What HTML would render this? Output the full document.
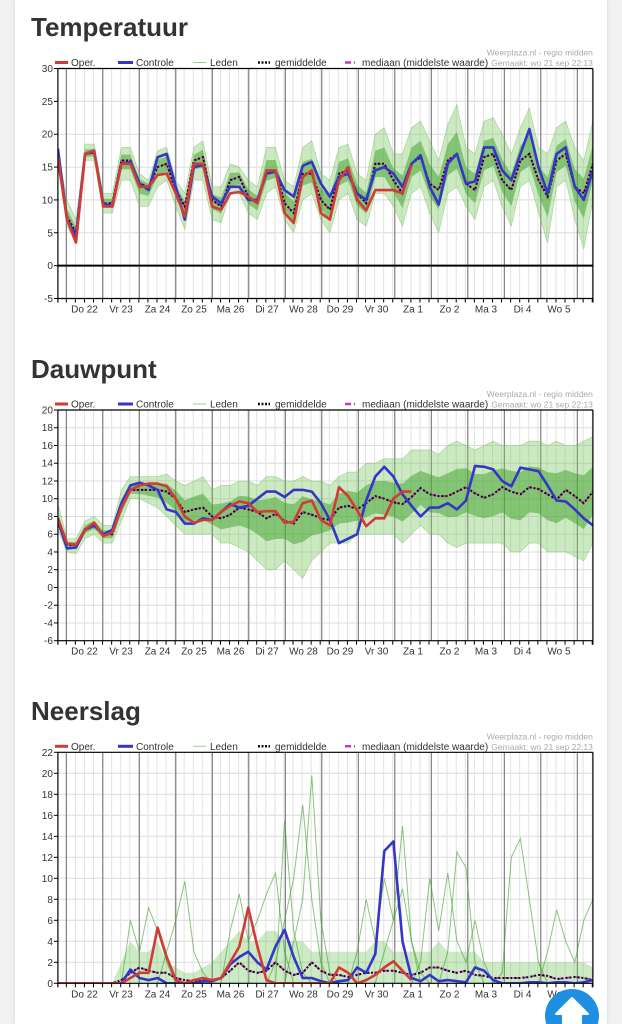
<!DOCTYPE html>
<html><head><meta charset="utf-8"><style>
html,body{margin:0;padding:0;background:#f1f1f1;width:622px;height:1024px;overflow:hidden}
#card{position:absolute;left:15px;top:0;width:592px;height:1024px;background:#fff;box-shadow:0 0 4px rgba(0,0,0,.12)}
svg{position:absolute;left:0;top:0}
text{font-family:"Liberation Sans",sans-serif}
</style></head><body>
<div id="card"></div>
<svg id="s" width="622" height="1024"></svg>
<script>
// ---------- data ----------
const dayLabels = ["Do 22","Vr 23","Za 24","Zo 25","Ma 26","Di 27","Wo 28","Do 29","Vr 30","Za 1","Zo 2","Ma 3","Di 4","Wo 5"];
const tempTicks = [30,25,20,15,10,5,0,-5];
const dewTicks = [20,18,16,14,12,10,8,6,4,2,0,-2,-4,-6];
const precTicks = [22,20,18,16,14,12,10,8,6,4,2,0];

const tempBlue = [17.8,7,4.5,17,17.3,9.5,9,15.5,15.8,12.5,11.5,16.5,17,12,7,15,15.3,10.5,9.5,12,12,10,10,14,14.3,11.5,10.5,15.2,15.8,12.5,10.5,13.5,14,11,10,14.5,15,14,12,15.5,16.8,12,9.3,15.5,17,12.5,12.8,18,18,14.5,13,17,20.8,15,11,17,18,12,10,14.5];
const tempOper = [16.5,7,3.5,17,17.5,9,9,15.5,15.5,12,12,13.8,14,11,7.5,15.5,15.5,9,8.5,11,11.2,10.5,9.5,14.5,14.5,8,6.5,13.5,14.5,8,7,13,15,10,8.4,11.5,11.5,11.5,11,15.3];
const tempMean = [16.5,7.5,5,17,17.2,9.5,9.5,16,16,12.5,12,15,15.5,11.5,9,16,16.5,10,9,13,13.5,10.5,9.5,14.5,14.5,9.5,8,14,14,10,8.5,14,14.5,11,9.5,15.5,15.5,13,11,15.5,16.5,12.5,11.5,16,17,12.5,11.5,16.5,17,13,11.5,16,17,13,10.5,16,17,12,11,15.5];
const tempHi = [17.5,10,7,18.5,18.5,11,11,18,18,14,13,17.5,18,13,11,18,19,12,12,15.5,15,13,12,18,18,13,12,18,19,14,13,18,18.5,14,13,20,21,17,17,21,22,19,16,21.5,24.5,18,17,22,22.5,20,17,21,24,18,17,21,22,18,16,22];
const tempLo = [15,6,3.5,16,16,8,8,13,13,9,9,12,13,9,5.5,13,13,7,6.5,11,11,8,7,11,12,7,5,10,11,7,5,10,11,7,6,11,11,9,6,11,12,8,5,11,12,9,7,12,13,9,6,12,13,8,3.5,12,13,7,2.5,10];

const dewBlue = [7.5,4.4,4.5,6.5,7,6,6.5,9.5,11.5,11.8,11.5,11,8.8,8.5,7.2,7.2,7.8,7.6,8.5,9.4,9,9.2,10,10.8,10.8,10.2,11,11,10.8,9.5,7.6,5,5.5,6,9.8,12.5,13.6,12.5,10.5,9.2,8,9,9,9.5,8.8,9.8,13.7,13.6,13.3,12,11.4,13.5,13.3,13.1,11.5,9.8,9.7,8.8,7.8,7];
const dewOper = [7.8,5,4.8,6.5,7.3,5.8,6.2,9,11,11.5,11.7,11.7,11.4,10,8,7.3,7.6,7.6,8.5,9.2,9.7,9.5,8.5,8.6,8.6,7.3,7.4,9.5,9.8,7.6,7,11.3,10.3,8.7,6.9,7.8,7.8,10,10.8,10.8];
const dewMean = [7.5,4.8,4.8,6.6,7.1,6,6,9,11,11,11,11,10.8,10,8.5,8.8,9,8,7.8,8.2,9,8.8,8.5,7.8,8.3,7.5,7.2,8.5,8.2,7.8,7.6,9,9.2,8.8,9.5,10.3,10,9.6,9.4,10.2,11.2,10.5,10.3,10.3,10.8,11.3,10.6,10.1,10.5,11.3,10.8,10.5,11.3,11.1,10.5,9.9,11,10.3,9.5,10.8];
const dewHi = [9.5,5.5,5.5,7.5,8,7,7,11,12.5,12.5,12.5,12.5,12.8,12,11.5,12,12.5,11,11.5,11.5,12,12,11.5,12.5,12.5,12,12,12.5,12,12,11.5,12.5,13,13,14,14,14.5,14.5,14.5,15.5,15.5,15.5,15,16,16.5,16,15.5,16,16.5,16,16,16,16.5,16.5,16,16.5,16,16,16.5,17];
const dewLo = [6.5,4,3.8,5.5,6,5,5,7.5,10,10,9.5,9,8,7,6,6,6,6,5,5,4.5,4,3,2,2,3,2,1,3,4,5,5,5,6,6,6,6,6,5,6,7,6,6,5,4.5,5,5,5,5,5,4,4,5,5,4,4,4,3.5,3,5];

const precOper = [0,0,0,0,0,0,0,0,0.5,1,1,5.3,2.5,0.3,0,0.3,0.5,0.3,0.5,2,3.5,7.2,3.5,0.3,0,0,0,0,0,0,0,1.5,1,0,0.3,0.8,1.5,2.1,1.2,0.3];
const precBlue = [0,0,0,0,0,0,0,0,1.3,0.5,0.3,0.5,0,0,0,0,0.2,0.2,0.5,1.8,2.5,3,2,1.3,3.5,5.1,2.5,0.5,0.5,0.2,0,0.2,0.3,1.5,1,2.8,12.6,13.5,4,0.5,0.2,0.8,0.2,0.3,0.2,0.1,1.5,1.2,0.3,0,0,0,0.1,0.1,0,0.1,0.1,0,0.1,0.3];
const precMean = [0,0,0,0,0,0,0,0.3,1,1.5,1.2,1,1,0.5,0.3,0.2,0.3,0.2,0.5,1.2,2,1.2,1,1.2,2,1.2,0.8,1,2,1.2,0.8,0.8,0.6,0.8,1,1,1.2,1.2,1,0.8,1,1.5,1.5,1.2,1,1.2,0.8,0.7,0.5,0.5,0.5,0.5,0.6,0.8,0.7,0.4,0.5,0.6,0.5,0.3];
const precBand = [0,0,0,0,0,0,0,2,4,3,3,4,2,1.5,1,1,1.5,2,3,4,5,4,4,5,5,4,4,4,3,3,3,3,3,3,3,4,4,3,3,3,3,3,4,3,3,3,3,2,2,2,2,2,2,2,2,2,2,2,2,1.5];
const precM1 = [[23,0],[24,2],[25,6],[26,10],[27,17],[28,8],[29,2],[30,0]];
const precM2 = [[25,0],[26,4],[27,8],[28,19.8],[29,6],[30,1],[31,0]];
const precM3 = [[35,0],[36,3],[37,6],[38,15],[39,4],[40,1],[41,0]];
const precM4 = [[48,0],[49,1],[50,12],[51,13.8],[52,8],[53,2],[54,0]];
const precM5 = [[11,0],[12,3],[13,6],[14,9.7],[15,3],[16,1],[17,0]];
const precM6 = [[7,0],[8,6],[9,3],[10,7.2],[11,5],[12,2],[13,0]];
const precM7 = [[42,0],[43,3],[44,12.5],[45,11],[46,2],[47,0]];
const precM8 = [[24,0],[25,15.5],[26,5],[27,1],[28,0]];
const precM9 = [[18,0],[19,5],[20,8.5],[21,4],[22,6],[23,8.5],[24,10.5],[25,3],[26,0]];
const precM10 = [[39,0],[40,2],[41,10],[42,5],[43,10.5],[44,4],[45,2],[46,6],[47,2],[48,0]];
const precM11 = [[32,0],[33,3],[34,8],[35,4],[36,10],[37,6],[38,9],[39,4],[40,0]];
const precM12 = [[53,0],[54,3],[55,7],[56,4],[57,2],[58,6],[59,8]];
const precMembers = [precM1,precM2,precM3,precM4,precM5,precM6,precM7,precM8,precM9,precM10,precM11,precM12];

// ---------- drawing ----------
const NS="http://www.w3.org/2000/svg";
const svg=document.getElementById('s');
const L=57.9,R=592.9,N=60;
function X(i){return L+i*(R-L)/(N-1);}
function mk(tag,attrs,parent){const e=document.createElementNS(NS,tag);for(const k in attrs)e.setAttribute(k,attrs[k]);(parent||svg).appendChild(e);return e;}
function pathFrom(arr,Y){let d='';arr.forEach((v,i)=>{if(v==null)return;d+=(d?'L':'M')+X(i).toFixed(1)+','+Y(v).toFixed(1);});return d;}
function bandPath(lo,hi,Y){let d='';hi.forEach((v,i)=>{d+=(i?'L':'M')+X(i).toFixed(1)+','+Y(v).toFixed(1);});for(let i=lo.length-1;i>=0;i--)d+='L'+X(i).toFixed(1)+','+Y(lo[i]).toFixed(1);return d+'Z';}

function chart(cfg){
  const g=mk('g',{});
  
  
  const Y=v=>cfg.top+(cfg.max-v)*(cfg.bottom-cfg.top)/(cfg.max-cfg.min);
  const t=mk('text',{x:31,y:cfg.titleY,'font-size':26,'font-weight':'bold',fill:'#333'},g);
  t.textContent=cfg.title;
  
  
  const grid=mk('g',{},g);
  
  
  cfg.ticks.forEach(v=>{mk('line',{x1:L,x2:R,y1:Y(v),y2:Y(v),stroke:'#dcdcdc','stroke-width':1},grid);});
  for(let i=0;i<N;i++){const x=X(i)+8.4;if(x>=R)continue;mk('line',{x1:x,x2:x,y1:cfg.top,y2:cfg.bottom,stroke:'#e2e2e2','stroke-width':1},grid);}
  for(let k=0;k<15;k++){const x=66.3+36.5*k;mk('line',{x1:x,x2:x,y1:cfg.top,y2:cfg.bottom,stroke:'#6a6a6a','stroke-width':1},grid);}
  const cid='clip-'+cfg.name;
  const cp=mk('clipPath',{id:cid},g);mk('rect',{x:L,y:cfg.top,width:R-L,height:cfg.bottom-cfg.top},cp);
  const pg=mk('g',{'clip-path':'url(#'+cid+')'},g);
  if(cfg.hi){
    const b=mk('path',{d:bandPath(cfg.lo,cfg.hi,Y),fill:'rgba(120,200,95,0.38)',stroke:'rgba(90,180,70,0.5)','stroke-width':0.6},pg);
    
    
    const iLo=cfg.mean.map((m,i)=>m-(m-cfg.lo[i])*0.45), iHi=cfg.mean.map((m,i)=>m+(cfg.hi[i]-m)*0.45);
    const b2=mk('path',{d:bandPath(iLo,iHi,Y),fill:'rgba(60,160,40,0.5)'},pg);
    
    
  }
  if(cfg.band){
    const zero=cfg.band.map(()=>0);
    const b=mk('path',{d:bandPath(zero,cfg.band,Y),fill:'rgba(110,195,85,0.35)'},pg);
    
    
  }
  if(cfg.members){
    cfg.members.forEach((m,k)=>{
      let d='';m.forEach((p,j)=>{d+=(j?'L':'M')+X(p[0]).toFixed(1)+','+Y(p[1]).toFixed(1);});
      const e=mk('path',{d:d,fill:'none',stroke:'rgba(60,160,40,0.6)','stroke-width':1},pg);
      
      
    });
  }
  if(cfg.zeroLine){mk('line',{x1:L,x2:R,y1:Y(0),y2:Y(0),stroke:'#000','stroke-width':2},pg);}
  const med=mk('path',{d:pathFrom(cfg.mean,Y),fill:'none',stroke:'#d030d0','stroke-width':2,'stroke-dasharray':'5,4'},pg);
  
  
  const mean=mk('path',{d:pathFrom(cfg.mean,Y),fill:'none',stroke:'#111','stroke-width':2,'stroke-dasharray':'2,2'},pg);
  
  
  const bl=mk('path',{d:pathFrom(cfg.blue,Y),fill:'none',stroke:'#3535c8','stroke-width':2.6,'stroke-linejoin':'round'},pg);
  
  
  const rd=mk('path',{d:pathFrom(cfg.oper,Y),fill:'none',stroke:'#d23b35','stroke-width':2.6,'stroke-linejoin':'round'},pg);
  
  
  mk('line',{x1:L,x2:L,y1:cfg.top,y2:cfg.bottom+4,stroke:'#000','stroke-width':1.2},g);
  mk('line',{x1:L,x2:R,y1:cfg.top,y2:cfg.top,stroke:'#000','stroke-width':1.2},g);
  mk('line',{x1:R,x2:R,y1:cfg.top,y2:cfg.bottom+4,stroke:'#000','stroke-width':1.2},g);
  mk('line',{x1:L,x2:R,y1:cfg.bottom,y2:cfg.bottom,stroke:'#000','stroke-width':1.2},g);
  cfg.ticks.forEach(v=>{
    mk('line',{x1:L-4,x2:L,y1:Y(v),y2:Y(v),stroke:'#000'},g);
    const tx=mk('text',{x:L-5,y:Y(v)+3.5,'font-size':10,fill:'#333','text-anchor':'end'},g);
    tx.textContent=v;
    
    
  });
  for(let i=0;i<N;i++){const x=X(i)+8.4;if(x>=R)continue;mk('line',{x1:x,x2:x,y1:cfg.bottom,y2:cfg.bottom+4,stroke:'#000'},g);}
  dayLabels.forEach((lab,k)=>{
    const tx=mk('text',{x:66.3+36.5*k+18.2,y:cfg.bottom+14,'font-size':10,fill:'#333','text-anchor':'middle'},g);
    tx.textContent=lab;
    
    
  });
  const ly=cfg.top-6;
  const lg=mk('g',{},g);
  
  
  const items=[[55,68,'#d23b35',3,'','Oper.',71],[118,133,'#3535c8',3,'','Controle',136],[193,206,'#9fd08a',1,'','Leden',210],[258,270,'#111',2.5,'2,1.5','gemiddelde',275],[345,355,'#d030d0',2.5,'6,3','mediaan (middelste waarde)',362]];
  items.forEach(it=>{
    const ln=mk('line',{x1:it[0],x2:it[1],y1:ly,y2:ly,stroke:it[2],'stroke-width':it[3],'stroke-dasharray':it[4]||'none'},lg);
    
    
    const tx=mk('text',{x:it[6],y:ly+3.5,'font-size':10,fill:'#333'},lg);
    tx.textContent=it[5];
    
    
  });
  const s1=mk('text',{x:R,y:ly-7,'font-size':8.5,fill:'#aaa','text-anchor':'end'},g);s1.textContent='Weerplaza.nl - regio midden';
  
  
  const s2=mk('text',{x:R,y:ly+3.5,'font-size':8.5,fill:'#aaa','text-anchor':'end'},g);s2.textContent='Gemaakt: wo 21 sep 22:13';
  
  
}

chart({name:'temperatuur',title:'Temperatuur',titleY:36,top:68.5,bottom:298.5,max:30,min:-5,ticks:tempTicks,blue:tempBlue,oper:tempOper,mean:tempMean,hi:tempHi,lo:tempLo,zeroLine:true});
chart({name:'dauwpunt',title:'Dauwpunt',titleY:378,top:410,bottom:640.7,max:20,min:-6,ticks:dewTicks,blue:dewBlue,oper:dewOper,mean:dewMean,hi:dewHi,lo:dewLo});
chart({name:'neerslag',title:'Neerslag',titleY:720,top:752.3,bottom:983.3,max:22,min:0,ticks:precTicks,blue:precBlue,oper:precOper,mean:precMean,band:precBand,members:precMembers});

const btn=mk('g',{});


mk('circle',{cx:572,cy:1016,r:27,fill:'#1e8fe1'},btn);
mk('path',{d:'M572,998 L588,1014 L581,1014 L581,1030 L563,1030 L563,1014 L556,1014 Z',fill:'#fff',stroke:'#fff','stroke-width':2,'stroke-linejoin':'round'},btn);
</script>
</body></html>
